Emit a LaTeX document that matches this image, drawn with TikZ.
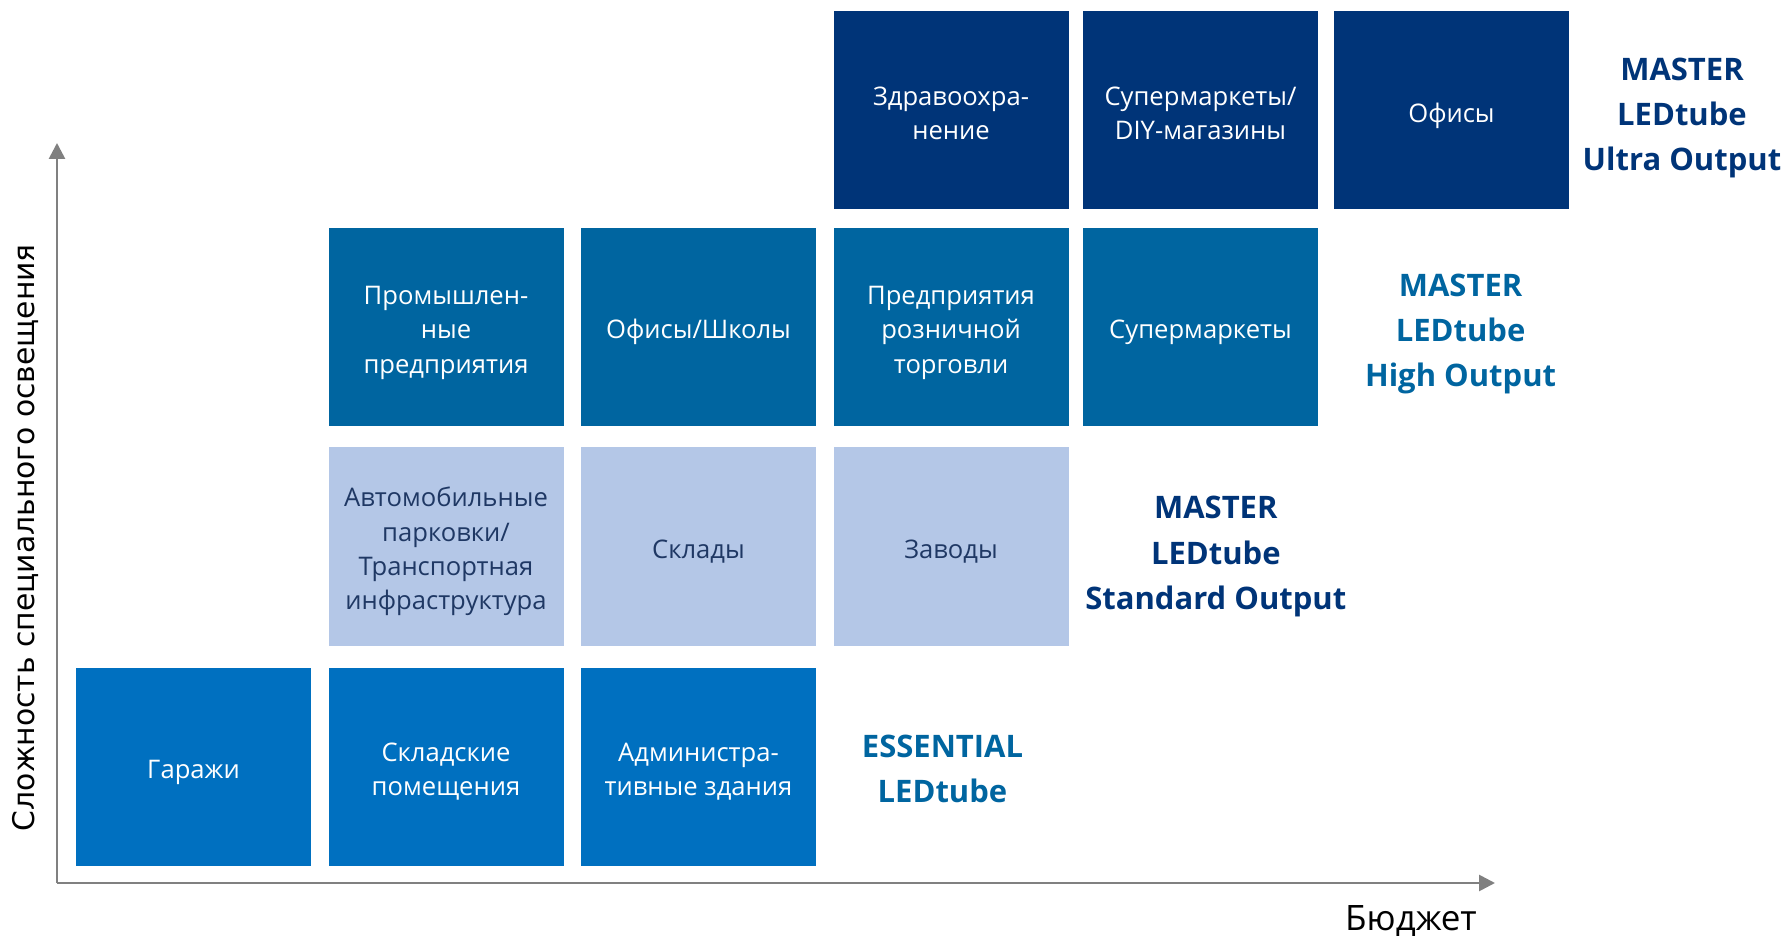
\documentclass[tikz,border=0pt]{standalone}
\usepackage{fontspec}
\setmainfont{Open Sans}
\newfontfamily\axisfont{DejaVu Sans}
\usetikzlibrary{arrows.meta,positioning}
\definecolor{ltdark}{RGB}{0,52,120}
\definecolor{ltmid}{RGB}{0,101,160}
\definecolor{ltbase}{RGB}{0,112,192}
\definecolor{ltlight}{RGB}{180,199,231}
\definecolor{lttext}{RGB}{31,56,100}
\definecolor{axisgray}{RGB}{128,128,128}
\tikzstyle{axis} = [line width=1.35pt, color=axisgray, -{Triangle[length=8pt,width=8pt]}]
\newcommand{\boxlines}[1]{\raisebox{0pt}[\dimexpr\height+5pt\relax][\depth]{\begin{tabular}{@{}c@{}}#1\end{tabular}}}

\begin{document}
\begin{tikzpicture}[
    x=0.5pt, y=-0.5pt,
    every node/.style={font=\fontsize{12.8}{17.2}\selectfont},
    cell/.style={rectangle, minimum width=117.5pt, minimum height=99pt, inner sep=0pt, text=white},
    tier/.style={align=center, inner sep=0pt, font=\fontsize{15.5}{22.6}\selectfont\bfseries}
]
\useasboundingbox (0,0) rectangle (1785,936);

% Axes
\coordinate (origin) at (57,883);
\coordinate (ytip) at (57,143);
\coordinate (xtip) at (1495,883);
\draw[axis] (origin) -- (ytip);
\draw[axis] (origin) -- (xtip);
\node[rotate=90, inner sep=0pt, font=\fontsize{14.9}{17}\axisfont] (complexity) at (25,537.6) {Сложность специального освещения};
\node[inner sep=0pt, font=\fontsize{17.5}{21}\selectfont] (budget) at (1411,921.5) {Бюджет};

% Ultra Output (top)
\node[cell, fill=ltdark] (health) at (951,110.5) {\boxlines{Здравоохра-\\нение}};
\node[cell, fill=ltdark] (diy) at (1200.5,110.5) {\boxlines{Супермаркеты/\\DIY-магазины}};
\node[cell, fill=ltdark] (offices) at (1451.5,110.5) {\boxlines{Офисы}};
\node[tier, text=ltdark] (ultra) at (1682,118) {MASTER\\LEDtube\\Ultra Output};

% High Output
\node[cell, fill=ltmid] (industry) at (446,326.8) {\boxlines{Промышлен-\\ные\\предприятия}};
\node[cell, fill=ltmid] (schools) at (698.5,326.8) {\boxlines{Офисы/Школы}};
\node[cell, fill=ltmid] (retail) at (951,326.8) {\boxlines{Предприятия\\розничной\\торговли}};
\node[cell, fill=ltmid] (supermarket) at (1200.5,326.8) {\boxlines{Супермаркеты}};
\node[tier, text=ltmid] (high) at (1460.6,334) {MASTER\\LEDtube\\High Output};

% Standard Output
\node[cell, fill=ltlight, text=lttext] (parking) at (446,546.5) {\boxlines{Автомобильные\\парковки/\\Транспортная\\инфраструктура}};
\node[cell, fill=ltlight, text=lttext] (stores) at (698.5,546.5) {\boxlines{Склады}};
\node[cell, fill=ltlight, text=lttext] (plants) at (951,546.5) {\boxlines{Заводы}};
\node[tier, text=ltdark] (standard) at (1215.8,556.5) {MASTER\\LEDtube\\Standard Output};

% Essential (bottom)
\node[cell, fill=ltbase] (garages) at (193.5,766.8) {\boxlines{Гаражи}};
\node[cell, fill=ltbase] (storage) at (446,766.8) {\boxlines{Складские\\помещения}};
\node[cell, fill=ltbase] (admin) at (698.5,766.8) {\boxlines{Администра-\\тивные здания}};
\node[tier, text=ltmid] (essential) at (942.5,769) {ESSENTIAL\\LEDtube};

\end{tikzpicture}
\end{document}
